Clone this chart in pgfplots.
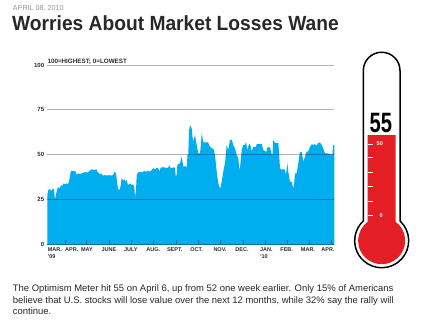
\documentclass[border=0pt]{standalone}
\usepackage{pgfplots}
\pgfplotsset{compat=1.18}
\usepackage{fontspec}
\setmainfont{Liberation Sans}
\definecolor{areablue}{RGB}{0,174,239}
\definecolor{thermred}{RGB}{227,30,36}
\definecolor{titlegray}{RGB}{40,40,40}
\definecolor{dategray}{RGB}{150,150,150}
\definecolor{lblgray}{RGB}{45,45,45}
\begin{document}
\begin{tikzpicture}[x=1pt,y=1pt]
\fill[white] (0,0) rectangle (432,-332);
\path[use as bounding box] (0,0) rectangle (432,-332);
% header
\node[anchor=base west, inner sep=0pt, text=dategray] at (12.7,-10.2) {\fontsize{7.2}{8}\selectfont APRIL 08, 2010};
\node[anchor=base west, inner sep=0pt, text=titlegray] at (12,-30.7) {\scalebox{0.937}[1]{\fontsize{20.5}{22}\selectfont\bfseries Worries About Market Losses Wane}};
% chart
\begin{axis}[
  at={(47.3pt,-244.3pt)}, anchor=south west,
  scale only axis, width=287pt, height=179.3pt,
  xmin=47.3, xmax=334.3, ymin=0, ymax=100,
  /pgf/number format/assume math mode=true,
  axis on top,
  axis x line*=bottom, axis y line*=left,
  y axis line style={draw=none},
  x axis line style={draw={rgb,255:red,0;green,115;blue,165}, line width=0.9pt},
  ytick={0,25,50,75,100},
  ytick style={draw=none},
  yticklabel style={font=\bfseries\fontsize{6}{6}\selectfont, text=lblgray, inner sep=0pt, xshift=-3pt},
  ymajorgrids,
  major grid style={draw=black, opacity=0.3, line width=0.8pt},
  xtick={65,86.3,109,131,153.3,176,198,220.3,243,265.3,287.3,309.3,331},
  xticklabels={},
  tick align=inside,
  major tick length=4pt,
  xtick style={draw=black, opacity=0.4, line width=0.8pt},
  extra x ticks={54.8,71.8,87,109,130.8,153.3,174.7,196.7,220,242,266.3,286.7,308,328},
  extra x tick labels={MAR.\\’09,APR.,MAY,JUNE,JULY,AUG.,SEPT.,OCT.,NOV.,DEC.,JAN.\\’10,FEB.,MAR.,APR.},
  extra x tick style={major tick length=0pt, xtick style={draw=none}},
  xticklabel style={font=\bfseries\fontsize{5.5}{7.2}\selectfont, text=lblgray, inner sep=0pt, anchor=north, align=left, yshift=-3.5pt},
]
\addplot[fill=areablue, draw=none] coordinates {
(47.3,27.5) (48.5,30.5) (50,30.8) (51.5,29.5) (52.5,31) (54,30.5) (55,24.7) (56,28) (57,30) (58,32)
(59.5,31) (61,33) (62.5,32.5) (63.5,34) (65,33.5) (66.7,34) (68,33.5) (69,35) (70,38) (70.7,40.5)
(71.7,40.9) (74,40.9) (75.7,40.5) (76.7,38.6) (78,39.6) (80,39.2) (82,39.6) (84,40) (85,40.3) (87,40)
(88.5,40.5) (90.7,41.5) (92,41.8) (94,41.5) (96.7,41.8) (97.3,40.5) (100,39) (101,39.5) (103,38.3) (105,38.6)
(107,38.3) (109,38.6) (111,38.3) (113,38.6) (114.7,40.5) (116,39.6) (117,35) (118,31) (119,30.3) (120,30.8)
(121,34) (121.7,36.8) (123,35.9) (124.5,36.2) (125,35) (126.7,35.9) (128,33) (130,34) (131.7,33) (133,33.5)
(134.3,32) (135,26.2) (136,30) (136.7,38.6) (138,40) (140,40.5) (142,40) (144,40.9) (146,40.5) (148,41)
(150,40.5) (151.7,41.4) (153.3,42.4) (155,42) (157,42.6) (158.3,42.4) (159.3,40.5) (160.7,42.8) (163,43) (165,42.8)
(167,42.6) (168.3,42.8) (169,44.2) (170,42.9) (172,42.5) (174,43) (175,42.4) (175.7,38) (176.7,38.6) (177.3,44.2)
(179,45) (180,45.2) (181.7,48.9) (183.3,43.3) (185,43.6) (186.7,43) (187.5,49.8) (188.3,50) (189,63) (190,66.5)
(191.7,64.7) (192.5,60) (193.3,57.2) (195,61) (196.7,55.4) (198.3,50.7) (200,50.7) (201,56) (201.7,61.9) (203.3,57.2)
(205,56.6) (206.7,57) (208.3,56.6) (210,54.4) (211.7,53.5) (213.3,53.5) (215,49.8) (216.7,40.5) (218.3,34) (219.5,32)
(220,31) (220.8,32.1) (221.7,34.9) (223.3,40.5) (225,45.2) (226.7,55.4) (228.3,52.6) (230,58.2) (231.7,58.2) (233.3,55.4)
(235,53.5) (236.7,49.8) (238.3,48) (239.3,42.4) (240,42.4) (241.7,52.6) (243.3,55.4) (245,55.4) (246,57.2) (247.3,52.6)
(248.5,55) (250,56.3) (251.7,51.8) (253.3,54.4) (256,54.4) (256.7,55.8) (259,56) (261.7,55.8) (263.3,52.6) (265,51.8)
(266.7,51.8) (267.3,54) (270,54) (271.7,50.1) (272.5,50.1) (273.3,58.2) (274.5,57) (275,56.6) (278.3,56.6) (279.2,50)
(280,42.4) (281.7,41.5) (283,42) (285,41.5) (286,38.6) (287.3,45.2) (288.3,40.5) (290,34.9) (291.7,34.9) (292.5,33)
(293.3,31.2) (294,33) (295,39.6) (296.7,39.6) (298.3,45.2) (300,51.6) (301.7,51.6) (303.3,46.1) (305,48.9) (306.7,51.8)
(308.3,51.8) (310,54.4) (311.7,55.8) (313.3,55.5) (315,55.8) (316.7,55) (318.3,56.7) (320,56.7) (321.7,55.4) (323.3,53.3)
(325,50.7) (328.3,50.7) (330,50.1) (332.3,50.1) (333.3,55.4) (334.3,55.4)
} \closedcycle;
\end{axis}
\node[anchor=base west, inner sep=0pt, text=lblgray] at (47.3,-63.3) {\bfseries\fontsize{6.3}{7}\selectfont 100=HIGHEST; 0=LOWEST};
% thermometer
\filldraw[fill=white, draw=black, line width=1.5pt]
  (363.3,-70.6) arc[start angle=180, end angle=0, radius=18.35]
  -- (400,-220.9) arc[start angle=47.3, end angle=-227.3, radius=27] -- cycle;
\fill[thermred] (367.65,-135) -- (395.65,-135) -- (395.65,-221.8)
  arc[start angle=53.5, end angle=-233.5, radius=23.5] -- cycle;
\foreach \yy in {144,157.7,172.3,186.7,201,215.3} {
  \draw[white, line width=0.8pt] (368,-\yy) -- (373,-\yy);
}
\node[anchor=west, inner sep=0pt, text=white] at (376.5,-144) {\bfseries\fontsize{5.5}{6}\selectfont 50};
\node[anchor=west, inner sep=0pt, text=white] at (379.5,-215.3) {\bfseries\fontsize{5.5}{6}\selectfont 0};
\node[inner sep=0pt, text=black] at (380.8,-122.7) {\scalebox{0.72}[1]{\fontsize{28}{28}\selectfont\bfseries 55}};
% caption
\node[anchor=base west, inner sep=0pt, text=titlegray] at (12.7,-291.6) {\fontsize{9.45}{11}\selectfont The Optimism Meter hit 55 on April 6, up from 52 one week earlier. Only 15\% of Americans};
\node[anchor=base west, inner sep=0pt, text=titlegray] at (12.7,-303) {\fontsize{9.45}{11}\selectfont believe that U.S. stocks will lose value over the next 12 months, while 32\% say the rally will};
\node[anchor=base west, inner sep=0pt, text=titlegray] at (12.7,-314.4) {\fontsize{9.45}{11}\selectfont continue.};
\end{tikzpicture}
\end{document}
